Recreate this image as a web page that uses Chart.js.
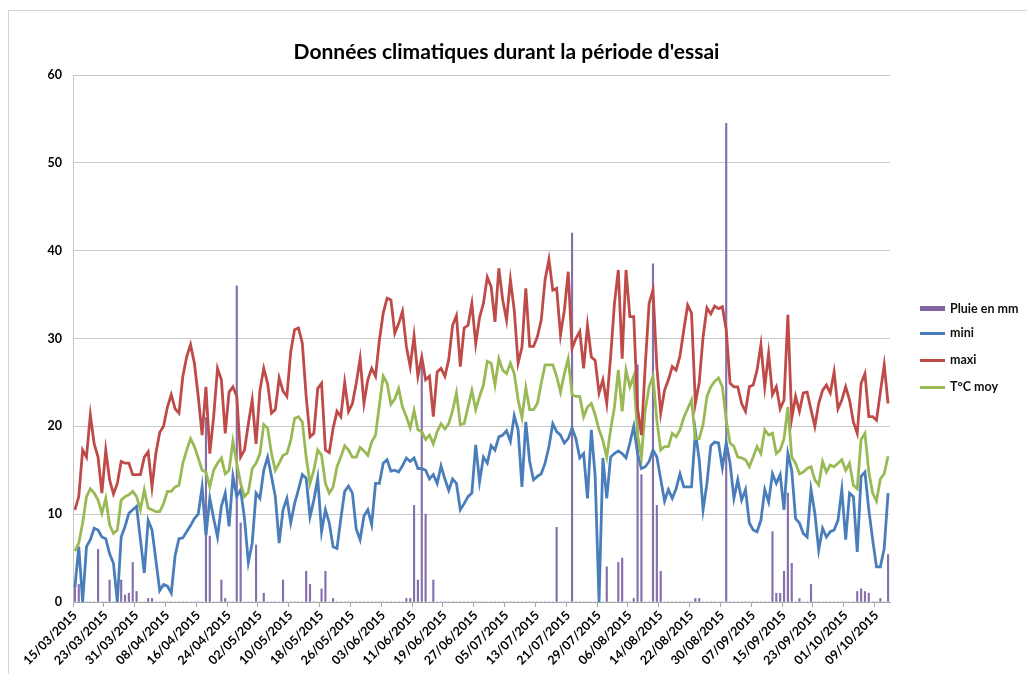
<!DOCTYPE html>
<html lang="fr">
<head>
<meta charset="utf-8">
<title>Données climatiques durant la période d'essai</title>
<script src="https://cdn.jsdelivr.net/npm/chart.js@4.4.0/dist/chart.umd.min.js"></script>
<style>
  html, body { margin: 0; padding: 0; background: #fff; }
  #box { position: relative; width: 1027px; height: 674px; overflow: hidden; font-family: Lato, "Open Sans", sans-serif; }
  #frame { position: absolute; left: 8px; top: 10px; width: 1100px; height: 800px;
           border-left: 1px solid #d4d4d4; border-top: 1px solid #d4d4d4; }
  #chart { position: absolute; left: 0; top: 0; }
  .leg { position: absolute; left: 920px; height: 16px; font-weight: bold; font-size: 12.5px; color: #111; }
  .leg i { position: absolute; left: 0; width: 25px; }
  .leg span { position: absolute; left: 30px; top: 0; line-height: 16px; white-space: nowrap; }
</style>
</head>
<body>
<div id="box">
  <div id="frame"></div>
  <canvas id="chart" width="1027" height="674"></canvas>
  <div class="leg" style="top:301px"><i style="top:5px;height:5px;background:#8064A2"></i><span>Pluie en mm</span></div>
  <div class="leg" style="top:325px"><i style="top:7px;height:2.5px;background:#4A7EBB"></i><span>mini</span></div>
  <div class="leg" style="top:352px"><i style="top:7px;height:2.5px;background:#BE4B48"></i><span>maxi</span></div>
  <div class="leg" style="top:379px"><i style="top:7px;height:2.5px;background:#98B954"></i><span>T°C moy</span></div>
</div>
<script>
// one value per day, 15/03/2015 -> 12/10/2015
const pluie = [
  2, 2, 0, 0, 0, 0, 6, 0, 0, 2.5,
  0, 0, 2.5, 0.8, 1, 4.5, 1.2, 0, 0, 0.4,
  0.4, 0, 0, 0, 0, 0, 0, 0, 0, 0,
  0, 0, 0, 0, 21, 7.5, 0, 0, 2.5, 0.4,
  0, 0, 36, 9, 0, 0, 0, 6.5, 0, 1,
  0, 0, 0, 0, 2.5, 0, 0, 0, 0, 0,
  3.5, 2, 0, 0, 1.5, 3.5, 0, 0.4, 0, 0,
  0, 0, 0, 0, 0, 0, 0, 0, 0, 0,
  0, 0, 0, 0, 0, 0, 0.4, 0.4, 11, 2.5,
  27, 10, 0, 2.5, 0, 0, 0, 0, 0, 0,
  0, 0, 0, 0, 0, 0, 0, 0, 0, 0,
  0, 0, 0, 0, 0, 0, 0, 0, 0, 0,
  0, 0, 0, 0, 0, 8.5, 0, 0, 0, 42,
  0, 0, 0, 0, 0, 0, 0, 0, 4, 0,
  0, 4.5, 5, 0, 0, 0.4, 27, 14.5, 0, 0,
  38.5, 11, 3.5, 0, 0, 0, 0, 0, 0, 0,
  0, 0.4, 0.4, 0, 0, 0, 0, 0, 0, 54.5,
  0, 0, 0, 0, 0, 0, 0, 0, 0, 0,
  0, 8, 1, 1, 3.5, 12.4, 4.4, 0, 0.4, 0,
  0, 2, 0, 0, 0, 0, 0, 0, 0, 0,
  0, 0, 0, 1.2, 1.5, 1.2, 1, 0, 0, 0.4,
  0, 5.4
];
const mini = [
  1.7, 6.3, 0, 6.3, 7.1, 8.4, 8.2, 7.4, 7.2, 5.5,
  4.4, 0, 7.4, 8.6, 10.1, 10.5, 10.9, 7.1, 3.3, 9.3,
  8.2, 4.8, 1.3, 2, 1.8, 1, 5.3, 7.2, 7.3, 8,
  8.7, 9.5, 10, 13.1, 7.6, 11.8, 9.5, 7.4, 10.9, 12.4,
  8.6, 14.3, 12, 12.8, 9.5, 4.5, 6.7, 12.4, 11.8, 15,
  16.5, 14.3, 12, 6.7, 10.5, 11.8, 9, 11.2, 12.8, 14.5,
  14.1, 9.7, 11.6, 14.1, 8, 10.5, 9, 6.3, 6.1, 9.5,
  12.6, 13.2, 12.4, 8.3, 7.1, 9.8, 10.5, 8.8, 13.5, 13.5,
  15.8, 16.2, 14.9, 15, 14.8, 15.5, 16.4, 16, 16.4, 15.2,
  15.2, 15, 14, 14.5, 13.5, 15.5, 14, 12.7, 14, 13.5,
  10.5, 11.2, 12, 12.4, 17.9, 13.7, 16.5, 15.8, 17.8, 17.3,
  18.8, 19, 19.5, 18.3, 21.2, 19.6, 13.1, 20.5, 16, 13.9,
  14.3, 14.6, 15.8, 17.7, 20.3, 19.4, 19, 18.1, 18.6, 19.8,
  18.6, 16.4, 16.9, 11.8, 19.6, 14.3, 0, 16.4, 11.8, 16.5,
  16.9, 17.2, 16.9, 16.4, 18.1, 20, 16.9, 15.2, 15.4, 16,
  17.3, 16.5, 14, 11.5, 12.8, 11.8, 12.9, 14.6, 13.1, 13.1,
  13.1, 19.4, 16.2, 10.5, 13.5, 17.8, 18.2, 18.1, 15.3, 18.1,
  15.8, 11.8, 13.9, 11.6, 12.8, 9, 8.2, 8, 9.3, 12.8,
  11.4, 14.6, 13.5, 14.5, 10.5, 16.9, 15, 9.5, 9, 7.8,
  7.4, 12.8, 10.1, 5.9, 8.4, 7.4, 8, 8.2, 9.3, 12.8,
  7.1, 12.4, 12, 5.7, 14.3, 14.8, 10.5, 7.1, 4, 4,
  6.1, 12.4
];
const maxi = [
  10.5, 12, 17.3, 16.5, 21.3, 18, 16.5, 12.4, 17.3, 13.9,
  12.3, 13.5, 16, 15.8, 15.8, 14.5, 14.5, 14.5, 16.5, 17.1,
  13.1, 16.9, 19.3, 20, 22.2, 23.6, 22, 21.5, 25.7, 27.9,
  29.3, 27.2, 23.4, 19, 24.5, 16.9, 21.1, 26.6, 25.3, 19.2,
  23.9, 24.5, 23.4, 16.5, 17.3, 20.3, 23, 18, 24.1, 26.6,
  24.9, 21.5, 21.9, 25.5, 24, 23.4, 28.5, 31, 31.2, 29.5,
  23.4, 18.8, 19.2, 24.3, 24.9, 17.3, 17, 19.8, 21.7, 21.1,
  25, 21.7, 22.6, 24.9, 27.7, 22.6, 25.3, 26.6, 25.7, 29.8,
  32.9, 34.6, 34.4, 30.6, 31.7, 33.1, 29.1, 26.8, 30.3, 25.7,
  27.9, 25.3, 25.7, 21.1, 26.2, 26.6, 25.7, 27.6, 31.5, 32.6,
  26.8, 31.2, 31.5, 34, 29.4, 32.4, 34, 37, 35.9, 31.9,
  38, 34.4, 32.1, 36.7, 33.2, 27.2, 29, 35.7, 29.1, 29.1,
  30.2, 32.1, 36.7, 39, 35.5, 35.7, 30.4, 33.2, 37.6, 28.9,
  30, 30.8, 26.6, 31.5, 27.9, 27.5, 23.8, 25.3, 22.6, 27.9,
  34, 37.8, 27.7, 37.8, 32.5, 32.5, 22, 19, 27, 34,
  35.5, 26.8, 21.5, 24.1, 25.3, 26.8, 26.4, 28, 31, 33.8,
  32.9, 22.6, 25, 30.2, 33.5, 32.8, 33.7, 33.4, 33.6, 31,
  24.9, 24.5, 24.5, 22.6, 21.7, 24.5, 24.7, 26.4, 29.3, 24.5,
  28.3, 23.6, 24.5, 22, 23, 32.7, 20.9, 23.4, 21.7, 23.8,
  23.9, 21.9, 20, 22.6, 24.1, 24.7, 23.8, 26.2, 22, 23,
  24.5, 23, 20.5, 19.2, 24.9, 26, 21.1, 21.1, 20.7, 23.9,
  27, 22.6
];
const moy = [
  5.8, 6.7, 9, 12, 12.9, 12.4, 11.6, 10.1, 11.8, 8.8,
  7.8, 8.2, 11.6, 12, 12.2, 12.6, 12, 10.5, 12.8, 10.7,
  10.5, 10.3, 10.3, 11.2, 12.6, 12.6, 13.1, 13.3, 15.8, 17.3,
  18.6, 17.7, 16.4, 15, 14.8, 13.1, 15, 15.8, 16.4, 14.6,
  15, 18.3, 15.8, 13.5, 12, 12.5, 15.2, 15.8, 16.9, 20.2,
  19.8, 16.9, 15, 15.8, 16.7, 16.9, 18.4, 20.9, 21.1, 20.5,
  16.5, 13.5, 15, 17.3, 16.7, 13.5, 12.4, 13.1, 15.4, 16.5,
  17.8, 17.3, 16.5, 16.5, 17.6, 17.2, 16.7, 18.2, 19, 22.4,
  25.7, 24.9, 22.5, 23.1, 24.3, 22.2, 21.1, 19.8, 21.8, 19.6,
  19.4, 18.5, 19, 18, 19.4, 20.3, 19.7, 20.3, 21.8, 23.8,
  20.2, 20.3, 22.2, 24.1, 21.9, 23.4, 24.7, 27.4, 27.2, 24.7,
  27.7, 26.4, 26, 27.2, 26, 23, 21, 24.4, 21.9, 21.9,
  22.6, 24.9, 27, 27, 27, 25.7, 23.9, 26, 27.7, 23.6,
  23.4, 23.4, 21.1, 22.2, 22.6, 21.3, 19.6, 18.4, 16.5, 19.6,
  22.2, 26.4, 21.7, 26.4, 24.5, 25.7, 19, 16.5, 21.9, 24.5,
  25.7, 20.7, 17.3, 17.7, 17.7, 19.2, 18.8, 19.6, 21, 22,
  23, 18.6, 18.6, 20.2, 23.4, 24.5, 25.1, 25.5, 24.5, 20.7,
  18.1, 17.7, 16.5, 16.4, 16.2, 15.4, 16.5, 17.7, 16.9, 19.6,
  19, 19.2, 16.9, 17.3, 18.6, 22.2, 16.5, 15.8, 14.6, 14.8,
  15.2, 15.4, 13.9, 13.3, 16, 14.8, 15.6, 15.4, 15.8, 16.2,
  15, 15.8, 13.3, 12.9, 18.5, 19.2, 14.8, 12.4, 11.5, 14,
  14.6, 16.6
];
// labels shown every 8 days
const tickLabels = [
  '15/03/2015', '23/03/2015', '31/03/2015', '08/04/2015', '16/04/2015', '24/04/2015',
  '02/05/2015', '10/05/2015', '18/05/2015', '26/05/2015', '03/06/2015', '11/06/2015',
  '19/06/2015', '27/06/2015', '05/07/2015', '13/07/2015', '21/07/2015', '29/07/2015',
  '06/08/2015', '14/08/2015', '22/08/2015', '30/08/2015', '07/09/2015', '15/09/2015',
  '23/09/2015', '01/10/2015', '09/10/2015'
];
const tickStep = 8;

const pad2 = n => String(n).padStart(2, '0');
const jours = pluie.map((_, i) => {
  const d = new Date(2015, 2, 15 + i);
  return pad2(d.getDate()) + '/' + pad2(d.getMonth() + 1) + '/' + d.getFullYear();
});

const axisGrey = '#a6a6a6';
const fontTick = { family: 'Lato', weight: 'bold', size: 12.5 };

new Chart(document.getElementById('chart'), {
  type: 'bar',
  data: {
    labels: jours,
    datasets: [
      { type: 'line', label: 'mini', data: mini, borderColor: '#4A7EBB', borderWidth: 2.8,
        pointRadius: 0, tension: 0, order: 3 },
      { type: 'line', label: 'maxi', data: maxi, borderColor: '#BE4B48', borderWidth: 2.8,
        pointRadius: 0, tension: 0, order: 1 },
      { type: 'line', label: 'T°C moy', data: moy, borderColor: '#98B954', borderWidth: 2.8,
        pointRadius: 0, tension: 0, order: 2 },
      { label: 'Pluie en mm', data: pluie, backgroundColor: '#8570AC', barThickness: 1.5,
        order: 4 }
    ]
  },
  options: {
    responsive: false,
    animation: false,
    devicePixelRatio: 1,
    layout: { padding: { left: 0, right: 14, top: 0, bottom: 0 } },
    plugins: {
      legend: { display: false },
      tooltip: { enabled: false },
      title: {
        display: true,
        text: "Données climatiques durant la période d'essai",
        color: '#000',
        font: { family: 'Lato', weight: 'bold', size: 21 },
        padding: { top: 40, bottom: 9.8 }
      }
    },
    scales: {
      x: {
        offset: true,
        grid: {
          offset: true,
          drawOnChartArea: false,
          tickLength: 5,
          color: c => (c.index % tickStep === 0 ? axisGrey : 'rgba(0,0,0,0)')
        },
        border: { color: axisGrey },
        ticks: {
          autoSkip: false,
          maxRotation: 45,
          minRotation: 45,
          padding: 1,
          color: '#000',
          font: fontTick,
          callback: (v, i) => (i % tickStep === 0 ? tickLabels[i / tickStep] : '')
        },
        afterFit: s => { s.height = 72; }
      },
      y: {
        min: 0,
        max: 60,
        ticks: { stepSize: 10, padding: 11, color: '#000', font: fontTick },
        grid: { color: '#c8c8c8', drawTicks: false },
        border: { color: '#c8c8c8' },
        afterFit: s => { s.width = 73; }
      },
      yRight: {
        position: 'right',
        display: true,
        grid: { display: false },
        border: { display: false },
        ticks: { display: false },
        afterFit: s => { s.width = 123; }
      }
    }
  }
});
</script>
</body>
</html>
